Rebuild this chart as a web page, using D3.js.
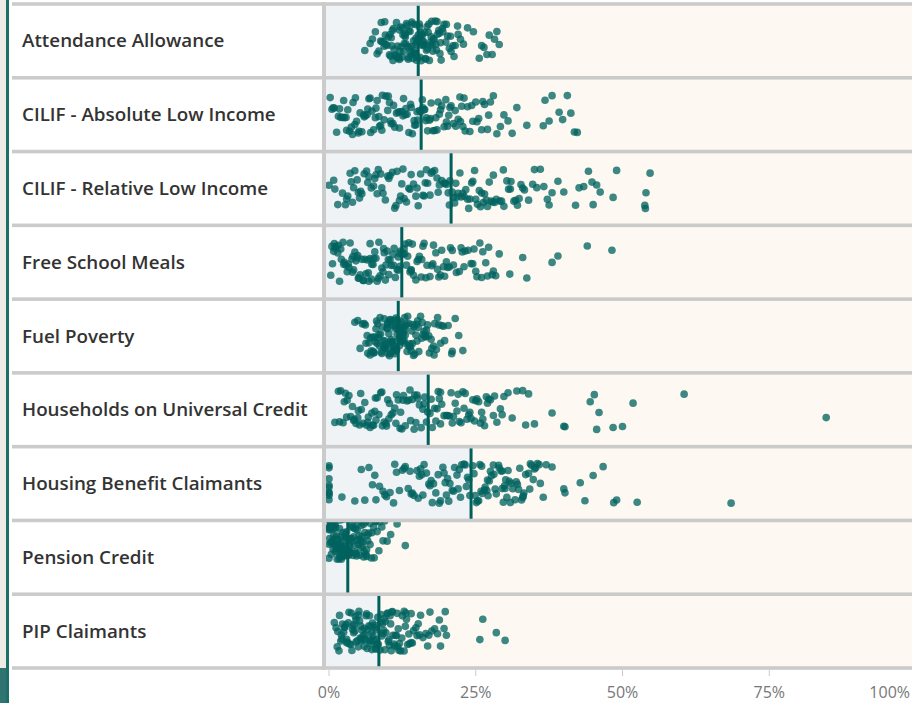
<!DOCTYPE html>
<meta charset="utf-8">
<style>
  body { margin: 0; background: #ffffff; }
  svg { display: block; }
  .row-label { font-family: "Open Sans", sans-serif; font-weight: 600; fill: #333; }
  .tick-label { font-family: "Open Sans", sans-serif; font-size: 16px; fill: #777; }
</style>
<body>
<div id="chart"></div>
<script src="https://cdn.jsdelivr.net/npm/d3@7"></script>
<script>
// categories (top to bottom)
const categories = [
  "Attendance Allowance",
  "CILIF - Absolute Low Income",
  "CILIF - Relative Low Income",
  "Free School Meals",
  "Fuel Poverty",
  "Households on Universal Credit",
  "Housing Benefit Claimants",
  "Pension Credit",
  "PIP Claimants"
];

// median line per category (%)
const medians = [15.2, 15.7, 20.8, 12.4, 11.8, 16.9, 24.2, 3.2, 8.5];

// axis ticks (%)
const tickValues = [0, 25, 50, 75, 100];

// one value (%) per area, per category
const attendanceAllowance = [6.1,7.0,7.4,7.9,8.2,8.5,8.8,9.0,9.3,9.5,9.7,9.9,10.1,10.3,10.4,10.6,10.8,10.9,11.1,11.2,11.4,11.5,11.7,11.8,12.0,12.1,12.2,12.4,12.5,12.6,12.8,12.9,13.0,13.1,13.3,13.4,13.5,13.6,13.8,13.9,14.0,14.1,14.2,14.4,14.5,14.6,14.7,14.8,14.9,15.0,15.1,15.2,
  15.3,15.4,15.5,15.6,15.8,15.9,16.0,16.1,16.3,16.4,16.5,16.7,16.8,17.0,17.1,17.3,17.4,17.6,17.8,17.9,18.1,18.3,18.5,18.7,18.9,19.1,19.4,19.6,19.9,20.2,20.5,20.8,21.1,21.5,21.9,22.4,22.9,23.6,24.6,25.6,26.0,26.4,26.9,27.3,27.8,28.2,28.6,29.0,
  8.9,9.6,10.5,11.0,11.6,12.3,12.7,13.2,13.7,14.3,14.8,15.0,9.4,10.7,12.0,13.5,14.1,14.6,11.9,13.0,
  15.4,15.7,16.2,16.6,17.2,17.7,18.2,18.8,19.3,20.0,20.7,21.3,15.5,16.9,17.5,18.4,19.0,16.0,15.9,22.0];
const cilifAbsolute = [0.2,0.5,0.9,1.3,1.6,2.0,2.3,2.6,2.9,3.2,3.5,3.8,4.1,4.4,4.7,5.0,5.3,5.6,5.9,6.2,6.5,6.8,7.0,7.3,7.6,7.9,8.2,8.5,8.8,9.1,9.4,9.7,10.0,10.3,10.6,10.9,11.2,11.5,11.8,12.1,12.4,12.7,13.0,13.3,13.6,13.9,14.2,14.5,14.8,15.1,15.4,15.6,
  15.9,16.2,16.5,16.8,17.1,17.4,17.7,18.0,18.4,18.8,19.2,19.6,20.0,20.4,20.8,21.2,21.6,22.0,22.4,22.8,23.2,23.6,24.0,24.5,25.0,25.5,26.0,26.5,27.0,27.5,28.0,28.6,29.2,29.8,30.5,31.2,32.0,33.7,36.5,36.8,37.5,39.2,39.8,40.6,41.2,41.8,42.3,38.0,
  0.7,1.8,3.0,4.0,5.1,6.0,7.1,8.0,9.0,10.1,11.0,12.0,13.1,14.0,15.0,2.5,4.5,6.6,8.6,10.5,12.6,14.6,
  16.0,16.6,17.3,18.2,19.0,19.9,20.6,21.5,22.3,23.0,24.3,25.2,26.2,27.2,16.3,18.6,20.2,22.6];
const cilifRelative = [0.0,0.8,1.5,2.3,2.8,3.2,3.6,4.0,4.4,4.8,5.2,5.6,6.0,6.4,6.8,7.2,7.6,8.0,8.4,8.8,9.2,9.6,10.0,10.4,10.8,11.2,11.6,12.0,12.4,12.8,13.2,13.6,14.0,14.4,14.8,15.2,15.6,16.0,16.4,16.8,17.2,17.6,18.0,18.4,18.8,19.2,19.6,20.0,20.3,20.6,1.0,5.0,
  21.0,21.4,21.8,22.3,22.8,23.3,23.8,24.3,24.8,25.3,25.8,26.3,26.8,27.3,27.9,28.5,29.1,29.7,30.3,30.9,31.5,32.1,32.7,33.3,34.0,34.7,35.4,36.0,36.6,37.2,38.0,39.0,40.0,42.0,42.6,43.4,44.2,45.0,45.6,46.2,48.4,49.0,53.8,53.9,54.0,54.7,33.0,35.0,31.0,28.0,37.5,44.8,
  3.0,4.2,5.4,6.6,7.8,9.0,10.2,11.4,12.6,13.8,15.0,16.2,17.4,18.6,19.8,3.8,8.2,12.2,16.6,20.5,
  21.2,22.0,23.0,24.0,25.0,26.0,27.0,28.2,29.4,30.6,21.6,23.6,25.6,27.6,29.8,32.4,22.5,24.5,26.5,31.8];
const freeSchoolMeals = [0.3,0.6,0.9,1.2,1.5,1.8,2.1,2.4,2.6,2.9,3.1,3.4,3.6,3.9,4.1,4.4,4.6,4.9,5.1,5.3,5.6,5.8,6.1,6.3,6.6,6.8,7.0,7.3,7.5,7.8,8.0,8.2,8.5,8.7,9.0,9.2,9.4,9.7,9.9,10.2,10.4,10.6,10.9,11.1,11.3,11.6,11.8,12.0,12.2,1.0,4.0,7.0,
  12.6,12.9,13.2,13.6,14.0,14.4,14.8,15.2,15.7,16.2,16.7,17.2,17.7,18.2,18.7,19.2,19.7,20.2,20.7,21.2,21.7,22.2,22.7,23.2,23.7,24.2,24.7,25.2,25.7,26.2,26.7,27.2,27.8,28.4,29.0,30.8,33.0,33.7,38.0,39.0,44.0,48.2,13.0,14.0,15.0,16.0,17.5,19.0,20.5,22.5,25.0,27.0,
  0.8,1.6,2.5,3.3,4.2,5.0,5.9,6.7,7.6,8.4,9.3,10.1,11.0,11.8,2.0,4.8,7.2,9.6,12.1,0.5,
  12.8,13.4,14.2,15.4,16.5,17.8,19.5,21.0,23.0,24.5,26.0,28.0,13.8,15.8,18.5,20.0];
const fuelPoverty = [4.4,4.9,5.3,5.7,6.0,6.3,6.6,6.8,7.0,7.2,7.4,7.6,7.8,8.0,8.2,8.4,8.5,8.7,8.9,9.0,9.2,9.3,9.5,9.6,9.8,9.9,10.0,10.1,10.3,10.4,10.5,10.6,10.7,10.8,10.9,11.0,11.1,11.2,11.3,11.4,11.5,11.6,11.7,6.2,7.5,8.6,9.4,10.2,11.0,11.5,
  11.9,12.0,12.1,12.2,12.4,12.5,12.6,12.8,12.9,13.1,13.2,13.4,13.6,13.8,14.0,14.2,14.4,14.6,14.8,15.0,15.3,15.6,15.9,16.2,16.5,16.8,17.1,17.5,17.9,18.3,18.7,19.2,19.7,20.3,20.9,21.5,22.1,22.8,12.3,12.7,13.0,13.5,14.3,15.1,16.0,17.0,18.0,19.0,21.0,12.2,
  6.5,7.1,7.7,8.3,8.8,9.1,9.7,10.0,10.5,10.9,11.3,11.6,7.9,8.1,9.5,10.6,11.2,11.8,9.9,10.3,
  12.0,12.3,12.6,12.9,13.3,13.7,14.1,14.5,15.2,15.8,16.6,17.4,18.5,12.1,12.8,13.9,14.9,16.4,17.8,19.5];
const universalCredit = [1.0,1.6,2.0,2.4,2.8,3.1,3.4,3.7,4.0,4.3,4.6,4.9,5.2,5.5,5.8,6.1,6.4,6.7,7.0,7.3,7.6,7.9,8.2,8.5,8.8,9.1,9.4,9.7,10.0,10.3,10.6,10.9,11.2,11.5,11.8,12.1,12.4,12.7,13.0,13.3,13.6,13.9,14.2,14.5,14.8,15.1,15.4,15.7,16.0,16.3,16.6,8.0,
  17.2,17.6,18.0,18.4,18.8,19.2,19.6,20.0,20.5,21.0,21.5,22.0,22.5,23.0,23.5,24.0,24.5,25.0,25.5,26.0,26.5,27.0,27.5,28.0,28.6,29.2,29.8,30.5,31.2,32.0,33.0,34.0,35.0,38.0,40.0,40.2,44.5,45.2,45.6,46.0,48.4,50.0,51.8,60.5,84.7,19.0,21.8,24.8,27.2,22.8,25.8,33.5,
  1.8,3.0,4.2,5.4,6.6,7.8,9.0,10.2,11.4,12.6,13.8,15.0,16.2,2.6,5.0,7.4,9.8,12.2,14.6,16.8,
  17.4,18.2,19.0,20.2,21.2,22.2,23.2,24.2,25.2,26.2,18.6,20.8,23.8,26.8,28.2,29.5];
const housingBenefit = [0,0,0,0,0,0,0,2.2,4.4,5.5,6.1,6.8,7.4,8.0,8.6,9.2,9.8,10.4,11.0,11.5,12.0,12.5,13.0,13.5,14.0,14.5,15.0,15.4,15.8,16.2,16.6,17.0,17.4,17.8,18.2,18.6,19.0,19.4,19.8,20.2,20.6,21.0,21.4,21.8,22.2,22.6,23.0,23.4,23.8,24.0,16.0,20.0,
  24.5,24.9,25.3,25.7,26.1,26.5,26.9,27.3,27.7,28.1,28.5,28.9,29.3,29.7,30.1,30.5,30.9,31.3,31.7,32.1,32.5,33.0,33.5,34.0,34.5,35.0,35.5,36.0,37.0,40.0,40.2,42.8,43.6,45.0,46.7,48.5,49.0,52.5,68.5,25.5,27.0,28.0,29.0,30.0,31.0,26.0,32.8,34.2,35.8,26.6,29.5,33.2,
  0,0,7.8,9.5,11.2,12.8,14.2,15.6,17.2,18.8,20.4,22.0,23.6,13.8,17.6,21.2,23.2,19.6,15.2,22.4,
  24.7,25.9,27.1,28.3,29.5,30.7,31.9,33.1,34.3,35.2,25.1,27.5,29.9,32.3,34.8,36.5,38.0,30.3];
const pensionCredit = [0,0,0,0.1,0.2,0.3,0.4,0.5,0.6,0.7,0.8,0.9,1.0,1.1,1.2,1.3,1.4,1.5,1.6,1.7,1.8,1.9,2.0,2.1,2.2,2.3,2.4,2.5,2.6,2.7,2.8,2.9,3.0,3.1,0.3,0.6,0.9,1.2,1.5,1.8,2.1,2.4,2.7,3.0,0.2,0.8,1.4,2.0,2.6,3.1,
  3.3,3.4,3.5,3.6,3.8,4.0,4.2,4.4,4.6,4.8,5.0,5.2,5.4,5.6,5.8,6.0,6.2,6.4,6.6,6.8,7.0,7.3,7.6,7.9,8.2,8.6,9.0,9.5,9.9,10.5,11.6,13.0,3.5,3.9,4.3,4.7,5.1,5.5,5.9,6.3,3.7,4.1,4.9,5.7,6.5,7.2,8.0,9.2,3.4,4.5,
  0,0,0.1,0.4,0.7,1.0,1.3,1.6,1.9,2.2,2.5,2.8,3.1,0.5,1.1,1.7,2.3,2.9,
  3.3,3.6,3.9,4.2,4.6,5.0,5.4,5.9,6.4,7.0,7.7,8.5,4.4,5.3,6.1];
const pipClaimants = [0.9,1.2,1.5,1.8,2.1,2.3,2.5,2.7,2.9,3.1,3.3,3.5,3.7,3.9,4.1,4.3,4.5,4.6,4.8,5.0,5.1,5.3,5.5,5.6,5.8,6.0,6.1,6.3,6.5,6.6,6.8,7.0,7.1,7.3,7.5,7.6,7.8,8.0,8.1,8.3,2.0,3.0,4.0,5.0,6.0,7.0,8.0,4.4,5.4,6.4,7.4,8.2,
  8.7,8.9,9.1,9.3,9.5,9.7,9.9,10.1,10.3,10.5,10.7,10.9,11.1,11.3,11.6,11.9,12.2,12.5,12.8,13.1,13.4,13.7,14.0,14.4,14.8,15.2,15.6,16.0,16.5,17.0,17.5,18.0,18.5,19.0,19.6,20.0,25.7,26.2,28.5,30.0,9.0,9.6,10.2,10.8,11.5,12.0,13.0,14.2,16.8,19.8,12.8,15.0,
  1.4,2.2,3.0,3.8,4.6,5.4,6.2,7.0,7.8,8.4,1.7,3.4,5.2,6.9,8.1,2.6,4.2,5.9,7.2,7.9,
  8.8,9.4,10.0,10.6,11.2,11.8,12.4,13.2,14.0,15.4,17.2,9.2,10.4,11.7,13.6,18.8];

const seriesValues = [attendanceAllowance, cilifAbsolute, cilifRelative, freeSchoolMeals,
  fuelPoverty, universalCredit, housingBenefit, pensionCredit, pipClaimants];

// ---- layout ----
const width = 912, height = 703;
const labelLeft = 12, divider = 324, plotLeft = 326;
const teal = "#00635e";

const svg = d3.select("#chart").append("svg")
  .attr("width", width)
  .attr("height", height);

const y = d3.scaleBand()
  .domain(categories)
  .range([4, 668])
  .paddingInner(0);

const x = d3.scaleLinear()
  .domain([0, 100])
  .range([329, 916]);

// left frame strip
svg.append("rect").attr("x", 0).attr("y", 0).attr("width", 6).attr("height", height).attr("fill", "#ecebe6");
svg.append("rect").attr("x", 0).attr("y", 668).attr("width", 6).attr("height", 35).attr("fill", "#2f7470");
svg.append("rect").attr("x", 6).attr("y", 0).attr("width", 3).attr("height", height).attr("fill", "#1c6e69");

const rows = svg.selectAll(".row")
  .data(categories)
  .join("g")
  .attr("class", "row")
  .attr("transform", d => `translate(0,${y(d)})`);

// backgrounds: blue up to the median, cream after it
rows.append("rect")
  .attr("x", plotLeft)
  .attr("width", (d, i) => x(medians[i]) - plotLeft)
  .attr("height", y.bandwidth())
  .attr("fill", "#eff3f5");
rows.append("rect")
  .attr("x", (d, i) => x(medians[i]))
  .attr("width", (d, i) => width - x(medians[i]))
  .attr("height", y.bandwidth())
  .attr("fill", "#fdf8f1");

// clip each row
rows.append("clipPath")
  .attr("id", (d, i) => "clip" + i)
  .append("rect")
  .attr("x", plotLeft)
  .attr("y", 1)
  .attr("width", width - plotLeft)
  .attr("height", y.bandwidth() - 2);

// deterministic jitter (hash of index); Pension Credit sits high in its row
const jitterHalf = 20;
const jitterShift = cat => cat === "Pension Credit" ? -18 : 0;
function hash(a, b) {
  const s = Math.sin(a * 12.9898 + b * 78.233) * 43758.5453;
  return s - Math.floor(s);
}

rows.append("g")
  .attr("clip-path", (d, i) => `url(#clip${i})`)
  .selectAll("circle")
  .data((d, i) => seriesValues[i].map((v, j) => ({ v, j, i, cat: d })))
  .join("circle")
  .attr("cx", d => x(d.v))
  .attr("cy", d => y.bandwidth() / 2 + jitterShift(d.cat) + (hash(d.j + 1, d.i + 1) - 0.5) * 2 * jitterHalf)
  .attr("r", 3.8)
  .attr("fill", teal)
  .attr("fill-opacity", 0.76);

// median lines
rows.append("rect")
  .attr("x", (d, i) => x(medians[i]) - 1.5)
  .attr("y", 0)
  .attr("width", 3)
  .attr("height", y.bandwidth())
  .attr("fill", "#00605b");

// label panel
rows.append("rect")
  .attr("x", labelLeft)
  .attr("width", divider - labelLeft)
  .attr("height", y.bandwidth())
  .attr("fill", "#ffffff");

const labels = rows.append("text")
  .attr("class", "row-label")
  .attr("x", 22)
  .attr("y", y.bandwidth() / 2)
  .attr("dy", "0.35em")
  .style("font-size", "17px")
  .text(d => d);

// fit label size to the longest label width seen in the picture
const longest = labels.filter(d => d === "Households on Universal Credit").node().getComputedTextLength();
labels.style("font-size", (17 * 286 / longest) + "px");

// row separators
svg.selectAll(".sep")
  .data(categories.map(d => y(d)).concat([y.range()[1]]))
  .join("rect")
  .attr("class", "sep")
  .attr("x", labelLeft)
  .attr("y", d => d - 1.8)
  .attr("width", width - labelLeft)
  .attr("height", 3.6)
  .attr("fill", "#cbcbcb");

// vertical divider
svg.append("rect")
  .attr("x", divider - 2)
  .attr("y", 2)
  .attr("width", 4)
  .attr("height", 668)
  .attr("fill", "#cbcbcb");

// x axis
const axis = svg.append("g");
axis.selectAll("line")
  .data(tickValues)
  .join("line")
  .attr("x1", d => x(d)).attr("x2", d => x(d))
  .attr("y1", 670).attr("y2", 676)
  .attr("stroke", "#cbcbcb")
  .attr("stroke-width", 1);
axis.selectAll("text")
  .data(tickValues)
  .join("text")
  .attr("class", "tick-label")
  .attr("x", d => d === 100 ? width - 2 : x(d))
  .attr("y", 698)
  .attr("text-anchor", d => d === 100 ? "end" : "middle")
  .text(d => d + "%");
</script>
</body>
